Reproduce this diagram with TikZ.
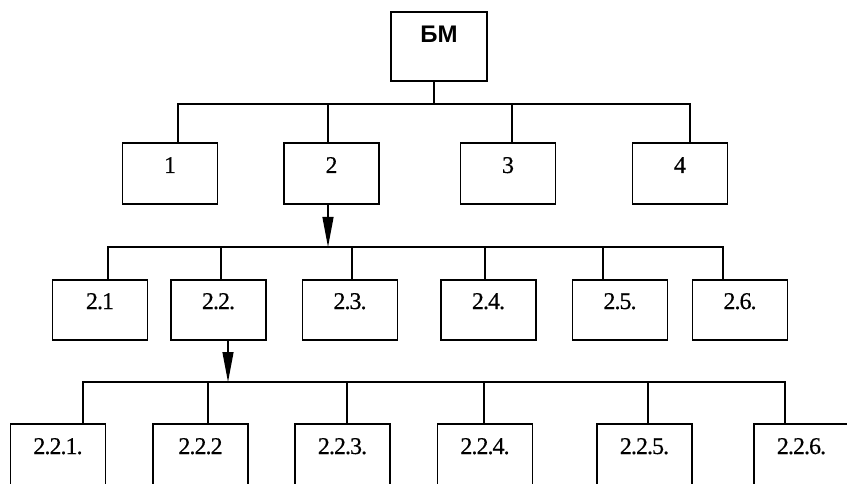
\documentclass[tikz,border=0pt]{standalone}
\usepackage{fontspec}
\setmainfont{Liberation Serif}[LetterSpace=-4,FakeBold=0.5]
\newfontfamily\bmfont{Liberation Sans}
\usetikzlibrary{arrows.meta}
\tikzset{
  tree box/.style={
    draw=black,
    line width=1.3pt,
    inner sep=0pt,
    minimum width=95pt,
    font=\fontsize{24}{26}\selectfont,
    text height=16pt
  },
  top box/.style={tree box, minimum width=96pt, minimum height=69pt,
    font=\bmfont\bfseries\fontsize{24}{27}\selectfont, text height=18pt, text depth=25pt},
  unit box/.style={tree box, minimum height=61pt, text depth=17pt},
  part box/.style={tree box, minimum height=60pt, text depth=18pt},
  leaf box/.style={tree box, minimum height=80pt, text depth=36pt},
  tree line/.style={draw=black, line width=1.2pt},
  tree flow/.style={tree line, -{Triangle[length=30pt,width=11pt]}}
}

\begin{document}
\begin{tikzpicture}[x=1pt,y=-1pt]
  \useasboundingbox (0,0) rectangle (847,484);
  \clip (0,0) rectangle (847,484);

  % top block
  \node[top box] (bm) at (439,46.5) {БМ};

  % first level
  \node[unit box] (u1) at (170,173.5) {1};
  \node[unit box] (u2) at (331.5,173.5) {2};
  \node[unit box] (u3) at (508,173.5) {3};
  \node[unit box] (u4) at (680,173.5) {4};

  % second level
  \node[part box] (p1) at (100,310) {2.1};
  \node[part box] (p2) at (218.5,310) {2.2.};
  \node[part box] (p3) at (350,310) {2.3.};
  \node[part box] (p4) at (488.5,310) {2.4.};
  \node[part box] (p5) at (620,310) {2.5.};
  \node[part box] (p6) at (740,310) {2.6.};

  % third level
  \node[leaf box] (l1) at (58,464) {2.2.1.};
  \node[leaf box] (l2) at (200.5,464) {2.2.2};
  \node[leaf box] (l3) at (342.5,464) {2.2.3.};
  \node[leaf box] (l4) at (485,464) {2.2.4.};
  \node[leaf box] (l5) at (644.5,464) {2.2.5.};
  \node[leaf box] (l6) at (801.5,464) {2.2.6.};

  \coordinate (bus1) at (434,104);
  \coordinate (bus2) at (328,247);
  \coordinate (bus3) at (228,382);

  \draw[tree line] (bm.south -| bus1) -- (bus1);
  \draw[tree line] ([xshift=8pt]u1.north) |- (bus1) -| ([xshift=10pt]u4.north);
  \foreach \n/\dx in {u2/-3.5,u3/4}
    \draw[tree line] ([xshift=\dx pt]\n.north) -- ([xshift=\dx pt]\n.north |- bus1);

  \draw[tree flow] (u2.south -| bus2) -- (bus2);
  \draw[tree line] ([xshift=8pt]p1.north) |- (bus2) -| ([xshift=-17pt]p6.north);
  \foreach \n/\dx in {p2/2.5,p3/2,p4/-3.5,p5/-17}
    \draw[tree line] ([xshift=\dx pt]\n.north) -- ([xshift=\dx pt]\n.north |- bus2);

  \draw[tree flow] (p2.south -| bus3) -- (bus3);
  \draw[tree line] ([xshift=25pt]l1.north) |- (bus3) -| ([xshift=-16.5pt]l6.north);
  \foreach \n/\dx in {l2/7.5,l3/4.5,l4/-1,l5/3.5}
    \draw[tree line] ([xshift=\dx pt]\n.north) -- ([xshift=\dx pt]\n.north |- bus3);
\end{tikzpicture}
\end{document}
